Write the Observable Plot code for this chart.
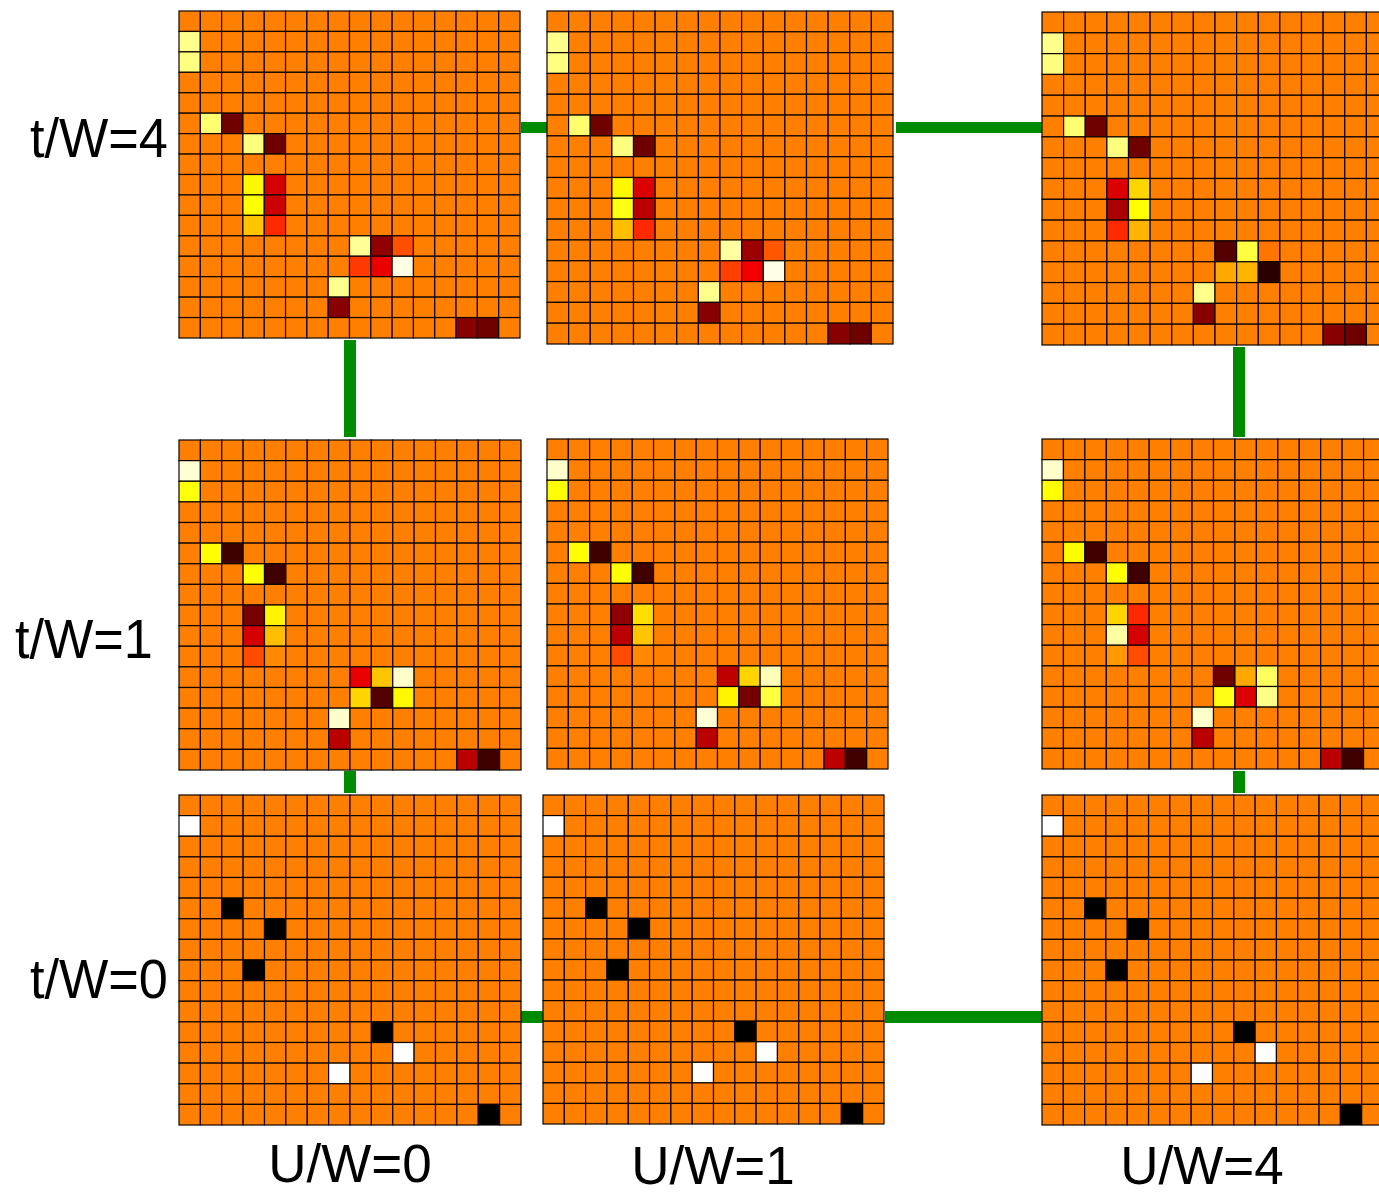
<!DOCTYPE html>
<html>
<head>
<meta charset="utf-8">
<script src="https://cdn.jsdelivr.net/npm/d3@7"></script>
<script src="https://cdn.jsdelivr.net/npm/@observablehq/plot@0.6"></script>
<style>
  html, body { margin: 0; padding: 0; background: #fff; overflow: hidden; }
  #root { position: relative; width: 1379px; height: 1197px; overflow: hidden; background: #fff; }
  .panel { position: absolute; }
  .panel svg { max-width: none !important; display: block; background: transparent !important; }
  .link { position: absolute; background: #008a00; }
  .lab { position: absolute; font-family: "Liberation Sans", Arial, sans-serif; line-height: 1; color: #000; white-space: nowrap; transform-origin: 0 0; }
  .clab { position: absolute; font-family: "Liberation Sans", Arial, sans-serif; line-height: 1; color: #000; white-space: nowrap; width: 240px; text-align: center; }
</style>
</head>
<body>
<div id="root"></div>
<script>
// ---- data: deviations per lattice site [row, col, value]; all other sites are 0 ----
const rowLabels = ["t/W=4", "t/W=1", "t/W=0"];
const colLabels = ["U/W=0", "U/W=1", "U/W=4"];

const t0U0 = [[1,0,1],[5,2,-1],[6,4,-1],[8,3,-1],[11,9,-1],[12,10,1],[13,7,1],[15,14,-1]];
const t0U1 = [[1,0,1],[5,2,-1],[6,4,-1],[8,3,-1],[11,9,-1],[12,10,1],[13,7,1],[15,14,-1]];
const t0U4 = [[1,0,1],[5,2,-1],[6,4,-1],[8,3,-1],[11,9,-1],[12,10,1],[13,7,1],[15,14,-1]];

const t1U0 = [[1,0,0.9],[2,0,0.42],[5,1,0.4],[5,2,-0.85],[6,3,0.42],[6,4,-0.85],
  [8,3,-0.72],[8,4,0.37],[9,3,-0.5],[9,4,0.2],[10,3,-0.16],[10,4,0.03],
  [11,8,-0.45],[11,9,0.22],[11,10,0.88],[12,8,0.27],[12,9,-0.8],[12,10,0.38],
  [13,7,0.88],[14,7,-0.56],[15,13,-0.56],[15,14,-0.85]];
const t1U1 = [[1,0,0.88],[2,0,0.4],[5,1,0.4],[5,2,-0.85],[6,3,0.4],[6,4,-0.85],
  [8,3,-0.66],[8,4,0.3],[9,3,-0.56],[9,4,0.22],[10,3,-0.16],[10,4,0.03],
  [11,8,-0.55],[11,9,0.27],[11,10,0.83],[12,8,0.37],[12,9,-0.72],[12,10,0.55],
  [13,7,0.9],[14,7,-0.56],[15,13,-0.56],[15,14,-0.85]];
const t1U4 = [[1,0,0.88],[2,0,0.4],[5,1,0.4],[5,2,-0.85],[6,3,0.4],[6,4,-0.85],
  [8,3,0.27],[8,4,-0.27],[9,3,0.78],[9,4,-0.5],[10,3,0.08],[10,4,-0.16],
  [11,8,-0.74],[11,9,0.13],[11,10,0.62],[12,8,0.45],[12,9,-0.48],[12,10,0.72],
  [13,7,0.88],[14,7,-0.56],[15,13,-0.56],[15,14,-0.85]];

const t4U0 = [[1,0,0.73],[2,0,0.7],[5,1,0.66],[5,2,-0.74],[6,3,0.7],[6,4,-0.74],
  [8,3,0.38],[8,4,-0.5],[9,3,0.4],[9,4,-0.52],[10,3,0.22],[10,4,-0.27],
  [11,8,0.75],[11,9,-0.66],[11,10,-0.15],[12,8,-0.22],[12,9,-0.45],[12,10,0.94],
  [13,7,0.73],[14,7,-0.68],[15,13,-0.68],[15,14,-0.74]];
const t4U1 = [[1,0,0.73],[2,0,0.7],[5,1,0.66],[5,2,-0.74],[6,3,0.7],[6,4,-0.74],
  [8,3,0.38],[8,4,-0.48],[9,3,0.45],[9,4,-0.56],[10,3,0.2],[10,4,-0.27],
  [11,8,0.78],[11,9,-0.63],[11,10,-0.13],[12,8,-0.2],[12,9,-0.43],[12,10,0.94],
  [13,7,0.73],[14,7,-0.68],[15,13,-0.68],[15,14,-0.74]];
const t4U4 = [[1,0,0.73],[2,0,0.7],[5,1,0.66],[5,2,-0.74],[6,3,0.7],[6,4,-0.74],
  [8,3,-0.48],[8,4,0.27],[9,3,-0.6],[9,4,0.4],[10,3,-0.27],[10,4,0.17],
  [11,8,-0.8],[11,9,0.55],[11,10,-0.03],[12,8,0.13],[12,9,0.17],[12,10,-0.9],
  [13,7,0.73],[14,7,-0.68],[15,13,-0.68],[15,14,-0.74]];

// ---- layout ----
const N = 16;
const sites = d3.range(N);
const panels = [
  {cells: t4U0, left: 179, top: 11, w: 341, h: 327},
  {cells: t4U1, left: 547, top: 11, w: 346, h: 333},
  {cells: t4U4, left: 1042, top: 12, w: 346, h: 333},
  {cells: t1U0, left: 179, top: 440, w: 342, h: 330},
  {cells: t1U1, left: 547, top: 439, w: 341, h: 330},
  {cells: t1U4, left: 1042, top: 439, w: 343, h: 330},
  {cells: t0U0, left: 179, top: 795, w: 342, h: 330},
  {cells: t0U1, left: 543, top: 795, w: 341, h: 329},
  {cells: t0U4, left: 1042, top: 795, w: 341, h: 330}
];

function fullGrid(cells) {
  const m = new Map(cells.map(([r, c, v]) => [r * N + c, v]));
  return d3.cross(sites, sites).map(([r, c]) => ({r, c, v: m.has(r * N + c) ? m.get(r * N + c) : 0}));
}

const root = document.getElementById("root");

// connectors (drawn first, beneath panels)
const links = [
  [521, 122, 26, 11], [896, 122, 146, 11],
  [344, 340, 12, 97], [1233, 347, 12, 90],
  [344, 771, 12, 22], [1233, 771, 12, 22],
  [521, 1011, 22, 12], [885, 1011, 157, 12]
];
for (const [x, y, w, h] of links) {
  const d = document.createElement("div");
  d.className = "link";
  Object.assign(d.style, {left: x + "px", top: y + "px", width: w + "px", height: h + "px"});
  root.appendChild(d);
}

for (const p of panels) {
  const chart = Plot.plot({
    width: p.w + 2,
    height: p.h + 2,
    margin: 1,
    x: {axis: null, domain: sites, padding: 0, round: false},
    y: {axis: null, domain: sites, padding: 0, round: false},
    color: {
      type: "linear",
      domain: [-1, -0.4, 0, 0.4, 1],
      range: ["#000000", "#ff0000", "#ff7f00", "#ffff00", "#ffffff"],
      interpolate: "rgb"
    },
    marks: [
      Plot.cell(fullGrid(p.cells), {x: "c", y: "r", fill: "v", stroke: "#0d0400", strokeWidth: 1.2})
    ]
  });
  const wrap = document.createElement("div");
  wrap.className = "panel";
  Object.assign(wrap.style, {left: (p.left - 1) + "px", top: (p.top - 1) + "px", width: (p.w + 2) + "px", height: (p.h + 2) + "px"});
  wrap.appendChild(chart);
  root.appendChild(wrap);
}

// labels
const rowLabPos = [[30, 111], [15, 612], [30, 952]];
rowLabels.forEach((t, i) => {
  const d = document.createElement("div");
  d.className = "lab";
  d.textContent = t;
  Object.assign(d.style, {left: rowLabPos[i][0] + "px", top: rowLabPos[i][1] + "px", fontSize: "55px", transform: "scaleX(0.95)"});
  root.appendChild(d);
});
// centre x and top of each column label
const colLabPos = [[350, 1137], [713, 1139], [1202, 1139]];
colLabels.forEach((t, i) => {
  const d = document.createElement("div");
  d.className = "clab";
  d.textContent = t;
  Object.assign(d.style, {left: (colLabPos[i][0] - 120) + "px", top: colLabPos[i][1] + "px", fontSize: "53px", height: "56px"});
  root.appendChild(d);
});
</script>
</body>
</html>
